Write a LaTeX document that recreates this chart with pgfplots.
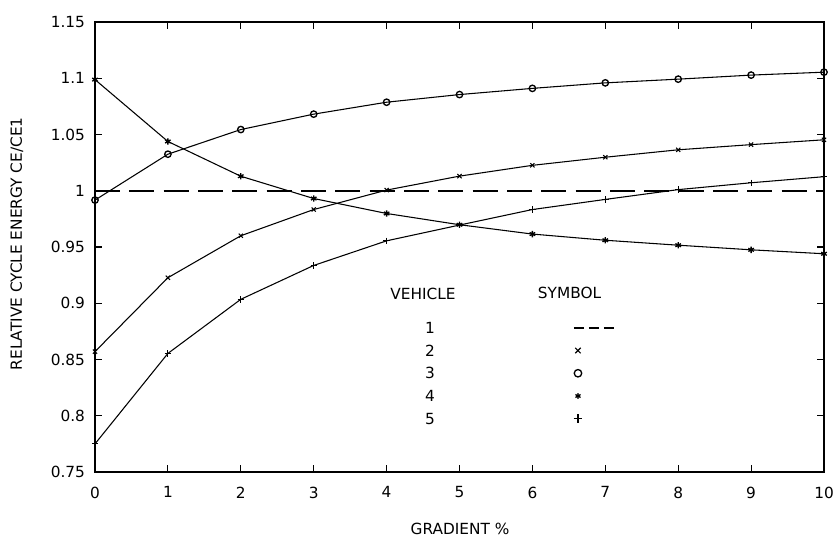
\documentclass[border=0pt]{standalone}
\usepackage{fontspec}
\setmainfont{DejaVu Sans}
\usepackage{pgfplots}
\pgfplotsset{compat=1.18}
\begin{document}
\fontsize{11.5}{13}\selectfont
\begin{tikzpicture}
\begin{axis}[name=ax,
  width=546.75pt, height=337.5pt, scale only axis,
  xmin=0, xmax=10, ymin=0.75, ymax=1.15,
  xtick={0,1,2,3,4,5,6,7,8,9,10},
  xticklabels={0,1,2,3,4,5,6,7,8,9,10},
  ytick={0.75,0.8,0.85,0.9,0.95,1,1.05,1.1,1.15},
  yticklabels={0.75,0.8,0.85,0.9,0.95,1,1.05,1.1,1.15},
  tick align=inside, major tick length=5pt,
  tick style={line width=0.8pt, black},
  axis line style={line width=1pt},
  xticklabel style={yshift=-7pt},
  yticklabel style={xshift=-3.5pt},
  xlabel={GRADIENT \%},
  ylabel={RELATIVE CYCLE ENERGY CE/CE1},
  xlabel style={at={(axis description cs:0.5007,-0.127)}, anchor=center},
  ylabel style={at={(axis description cs:-0.107,0.507)}, anchor=center},
  legend plot pos=right,
  legend cell align=left,
  legend style={draw=none, fill=none, inner sep=0pt, outer sep=0pt,
    at={(rel axis cs:0.4528,0.333)}, anchor=north west,
    row sep=8.66pt, column sep=103.6pt,
    nodes={inner sep=0pt, text height=8.4pt, text depth=0pt}},
  every axis plot/.append style={line width=0.8pt, black},
]
% Vehicle 1 (reference)
\addplot[line width=1.5pt, dash pattern=on 18.75pt off 7pt,
  legend image code/.code={\draw[line width=1.5pt, dash pattern=on 7.5pt off 3.75pt] (0pt,0pt) -- (30pt,0pt);}]
  coordinates {(0,1.0) (1,1.0) (2,1.0) (3,1.0) (4,1.0) (5,1.0) (6,1.0) (7,1.0) (8,1.0) (9,1.0) (10,1.0)};
\addlegendentry{1}
% Vehicle 2 (x)
\addplot[mark=x, mark size=2.2pt,
  legend image code/.code={\draw[mark=x, mark size=2.8pt, line width=0.8pt] plot coordinates {(3pt,0pt)};}]
  coordinates {(0,0.857) (1,0.9227) (2,0.960) (3,0.9833) (4,1.0006) (5,1.013) (6,1.0226) (7,1.0298) (8,1.0364) (9,1.041) (10,1.0453)};
\addlegendentry{2}
% Vehicle 3 (o)
\addplot[mark=o, mark size=2.4pt, mark options={line width=1pt},
  legend image code/.code={\draw[mark=o, mark size=2.8pt, line width=0.9pt] plot coordinates {(3pt,0pt)};}]
  coordinates {(0,0.9917) (1,1.0325) (2,1.0544) (3,1.0681) (4,1.0787) (5,1.0855) (6,1.091) (7,1.0959) (8,1.0992) (9,1.1028) (10,1.1054)};
\addlegendentry{3}
% Vehicle 4 (*)
\addplot[mark=asterisk, mark size=2.4pt, mark options={line width=1pt},
  legend image code/.code={\draw[mark=asterisk, mark size=2.2pt, line width=1pt] plot coordinates {(3pt,0pt)};}]
  coordinates {(0,1.0988) (1,1.0438) (2,1.0129) (3,0.9931) (4,0.9798) (5,0.9698) (6,0.9615) (7,0.956) (8,0.9516) (9,0.9475) (10,0.944)};
\addlegendentry{4}
% Vehicle 5 (+)
\addplot[mark=+, mark size=2.4pt,
  legend image code/.code={\draw[mark=+, mark size=3.3pt, line width=0.8pt] plot coordinates {(3pt,0pt)};}]
  coordinates {(0,0.775) (1,0.8554) (2,0.9035) (3,0.9336) (4,0.9555) (5,0.9695) (6,0.9833) (7,0.9923) (8,1.001) (9,1.0071) (10,1.0125)};
\addlegendentry{5}
\node[anchor=center, inner sep=0pt] at (rel axis cs:0.45,0.396) {VEHICLE};
\node[anchor=center, inner sep=0pt] at (rel axis cs:0.651,0.399) {SYMBOL};
\end{axis}
\pgfresetboundingbox
\path[use as bounding box] ([shift={(-71.25pt,-51pt)}]ax.south west) rectangle ([shift={(7.5pt,16.5pt)}]ax.north east);
\end{tikzpicture}
\end{document}
